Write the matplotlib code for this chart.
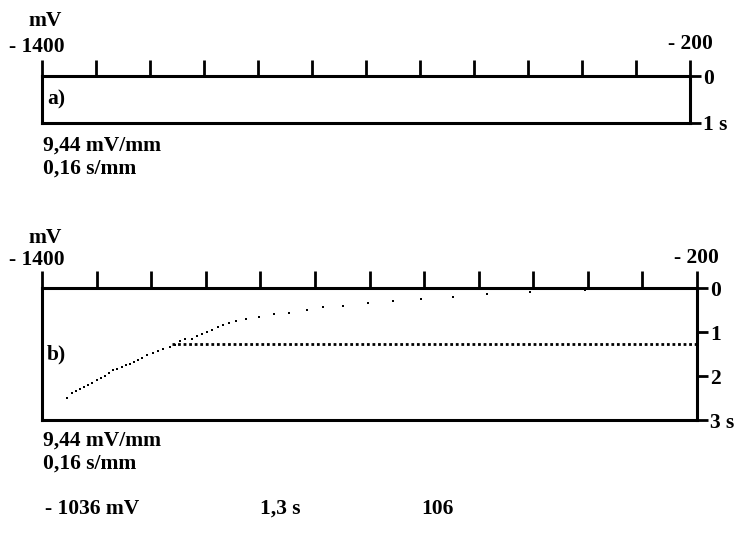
import matplotlib
matplotlib.use("Agg")
import matplotlib.pyplot as plt

# ---- data ----
x_min, x_max = -1400, -200
x_tick_step = 100
x_end_labels = ["- 1400", "- 200"]
unit_x = "mV"

a_yticks = [0, 1]
a_ylabels = ["0", "1 s"]
b_yticks = [0, 1, 2, 3]
b_ylabels = ["0", "1", "2", "3 s"]

scale_text = ["9,44 mV/mm", "0,16 s/mm"]

curve_mv = [-1354.7, -1345.6, -1338.3, -1330.4, -1322.5, -1315.2, -1307.9, -1299.8,
            -1291.9, -1284.6, -1276.7, -1269.4, -1262.1, -1254.0, -1246.1, -1238.8,
            -1230.9, -1223.6, -1216.3, -1208.2, -1196.1, -1186.9, -1177.8, -1165.5,
            -1156.3, -1147.2, -1138.0, -1125.8, -1116.0, -1106.9, -1098.3, -1089.1,
            -1078.1, -1068.4, -1057.4, -1044.6, -1026.3, -1002.5, -975.0, -947.5,
            -914.5, -885.2, -848.6, -802.8, -757.0, -705.7, -647.0, -584.8, -506.0,
            -405.2]
curve_s = [2.49, 2.39, 2.35, 2.30, 2.26, 2.21, 2.15, 2.09,
           2.05, 2.00, 1.94, 1.87, 1.84, 1.79, 1.75, 1.72,
           1.68, 1.63, 1.59, 1.53, 1.47, 1.43, 1.38, 1.34,
           1.29, 1.21, 1.17, 1.15, 1.10, 1.04, 1.01, 0.95,
           0.88, 0.84, 0.79, 0.76, 0.70, 0.65, 0.60, 0.56,
           0.50, 0.43, 0.41, 0.34, 0.29, 0.25, 0.20, 0.14, 0.09,
           0.05]
level_mv = [-1161, -200]
level_s = [1.27, 1.27]

result_texts = ["- 1036 mV", "1,3 s", "106"]

# ---- figure ----
W, H = 748, 544
fig = plt.figure(figsize=(W / 100, H / 100), dpi=100)
FONT = dict(family="Liberation Serif", weight="bold", size=15.5)
plt.rcParams["font.family"] = "Liberation Serif"
plt.rcParams["font.weight"] = "bold"


def rect(l, t, r, b):
    return [l / W, 1 - b / H, (r - l) / W, (b - t) / H]


def ftext(x, y, s, ha="left"):
    fig.text(x / W, 1 - y / H, s, ha=ha, va="center", **FONT)


def style(ax, yticks, ylabels, ymax, ticklen):
    ax.set_xlim(x_min, x_max)
    ax.set_ylim(ymax, 0)
    for sp in ax.spines.values():
        sp.set_linewidth(2.2)
        sp.set_color("black")
    ax.xaxis.set_ticks_position("top")
    ax.set_xticks(list(range(x_min, x_max + 1, x_tick_step)))
    ax.set_xticklabels([])
    ax.tick_params(axis="x", direction="out", length=ticklen, width=2.0, color="black")
    ax.yaxis.set_ticks_position("right")
    ax.set_yticks(yticks)
    ax.set_yticklabels(ylabels, fontdict=FONT)
    ax.tick_params(axis="y", direction="out", length=8, width=2.0, pad=1.5, color="black")
    ax.set_facecolor("white")


# panel a
axa = fig.add_axes(rect(42, 76, 690, 123))
style(axa, a_yticks, a_ylabels, 1, 11.5)
axa.text(0.008, 0.5, "a)", transform=axa.transAxes, ha="left", va="center", **FONT)

# panel b
axb = fig.add_axes(rect(42, 288, 697, 420))
style(axb, b_yticks, b_ylabels, 3, 12.5)
axb.text(0.008, 0.5, "b)", transform=axb.transAxes, ha="left", va="center", **FONT)
axb.plot(curve_mv, curve_s, linestyle="none", marker="s", markersize=2.0,
         color="black", markeredgewidth=0)
axb.plot(level_mv, level_s, linestyle=(0, (1, 1.0)), linewidth=2.0, color="black")

# texts panel a
ftext(28, 21, unit_x)
ftext(9, 47, x_end_labels[0])
ftext(668, 44, x_end_labels[1])
ftext(43, 146, scale_text[0])
ftext(43, 169, scale_text[1])

# texts panel b
ftext(28, 238, unit_x)
ftext(9, 260, x_end_labels[0])
ftext(674, 258, x_end_labels[1])
ftext(43, 441, scale_text[0])
ftext(43, 464, scale_text[1])

# results
ftext(45, 509, result_texts[0])
ftext(260, 509, result_texts[1])
ftext(421, 509, result_texts[2])

fig.savefig("out.png", dpi=100, facecolor="white")
